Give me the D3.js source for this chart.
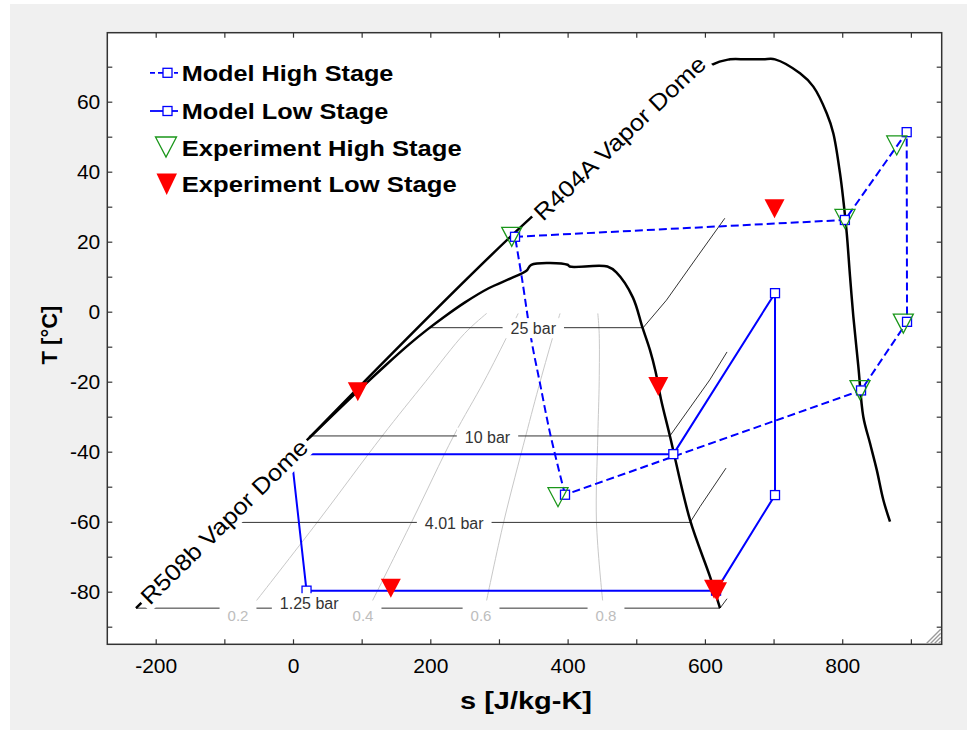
<!DOCTYPE html>
<html><head><meta charset="utf-8">
<script src="https://cdn.jsdelivr.net/npm/d3@7"></script>
<style>body{margin:0;background:#fff}svg{display:block}</style>
</head><body>
<svg id="chart" width="967" height="730"></svg>
<script>
// ---------- DATA ----------
const xTicks = [-200,-100,0,100,200,300,400,500,600,700,800,900];
const xTickLabels = [-200,0,200,400,600,800];
const yTicks = [-90,-80,-70,-60,-50,-40,-30,-20,-10,0,10,20,30,40,50,60,70];
const yTickLabels = [-80,-60,-40,-20,0,20,40,60];

// R508b vapor dome (s, T)
const r508bS = [-228.7, 24, 96, 135, 170, 195, 220, 250, 285, 318, 340, 347, 400, 403, 458, 471, 495, 509, 520, 528, 536, 549, 578.3, 607.4, 622];
const r508bT = [-84.7, -36, -22.4, -15.3, -9.2, -5.2, -1.5, 2.6, 6.7, 9.6, 11.7, 13.4, 13.4, 12.9, 12.9, 11.2, 4.1, -4.5, -11, -17, -25, -35.5, -59.5, -75.7, -84.7];
// R404A vapor dome (s, T)
const r404aS = [24, 345, 609.9, 636.6, 660, 685, 702.1, 738.5, 757.9, 777.4, 787.0, 796.8, 801.6, 806.6, 811.4, 816.2, 823.5, 830.7, 840.5, 850.3, 859.9, 869.6];
const r404aT = [-36, 26.6, 70.5, 72.1, 72.1, 72.1, 72.1, 68.1, 64.3, 56.7, 51.0, 39.5, 31.9, 22.4, 10.0, -1.4, -15.7, -30.0, -37.6, -45.2, -53.8, -60.0];

// Isobars
const p25S = [199.6, 510, 544, 588.5, 629];     const p25T = [-4.57, -4.57, 3.3, 15.6, 26.7];
const p10S = [24, 549, 607, 632.2];             const p10T = [-35.5, -35.5, -19.5, -11.5];
const p401S = [-101.5, 578.4, 592.9, 630.7];    const p401T = [-60.2, -60.2, -55.7, -44.7];
const p125S = [-228.7, 622, 632.2];             const p125T = [-84.7, -84.7, -82.0];
const pressureLabels = ["25 bar", "10 bar", "4.01 bar", "1.25 bar"];
const pressureLabelS = [350, 283.3, 234.8, 23.6];
const pressureLabelT = [-4.7, -36, -60.5, -83.3];

// Quality lines
const q02S = [-53, 36, 130, 193, 250, 282];    const q02T = [-82.5, -60, -35.5, -20, -6.2, -0.5];
const q04S = [116, 173, 234, 278, 314, 328];   const q04T = [-82.5, -60, -35.5, -20, -6.2, -0.5];
const q06S = [282, 307, 339, 360, 380, 389];   const q06T = [-82.5, -60, -35.5, -20, -6.2, -0.5];
const q08S = [451, 442, 444, 446, 446, 444];   const q08T = [-82.5, -60, -35.5, -20, -6.2, -0.5];
const qualityLabels = ["0.2", "0.4", "0.6", "0.8"];
const qualityLabelS = [-80.1, 102, 273.9, 455.9];
const qualityLabelT = [-86.7, -86.7, -86.7, -86.7];

// Model High Stage (dashed)
const highS = [396.2, 374.4, 359.8, 347.7, 333.1, 323.4, 803.9, 893.9, 894.4, 827.4, 396.2];
const highT = [-52.3, -34.7, -20.5, -8.6, 10.0, 21.4, 26.2, 51.3, -2.9, -22.5, -52.3];
const highMarkS = [396.2, 323.4, 803.9, 893.9, 894.4, 827.4];
const highMarkT = [-52.3, 21.4, 26.2, 51.3, -2.9, -22.5];
// Model Low Stage (solid)
const lowS = [-2.5, 19.7, 616.2, 702.1, 702.1, 554.0, -2.5];
const lowT = [-40.7, -79.7, -79.7, -52.4, 5.3, -40.7, -40.7];
const lowMarkS = [19.7, 616.2, 702.1, 702.1, 554.0];
const lowMarkT = [-79.7, -79.7, -52.4, 5.3, -40.7];
// Experiments
const expHighS = [318.6, 386.0, 804.0, 879.4, 889.0, 825.9];
const expHighT = [21.4, -53.0, 26.5, 47.5, -3.4, -22.4];
const expLowS = [94.4, 532.1, 701.4, 142.5, 613.3, 617.6];
const expLowT = [-22.9, -21.4, 29.4, -79.0, -79.3, -80.0];

const legendLabels = ["Model High Stage", "Model Low Stage", "Experiment High Stage", "Experiment Low Stage"];

// ---------- DRAW ----------
const FONT = "'Liberation Sans', Arial, sans-serif";
const BLUE = "#0000ff", GREEN = "#1a961a", RED = "#ff0000";
const svg = d3.select("#chart");
const L = 107.3, R = 941.7, T0 = 32.7, B = 644.3;
const x = d3.scaleLinear().domain([-270.5, 944.9]).range([L, R]);
const y = d3.scaleLinear().domain([-95.03, 79.71]).range([B, T0]);
const zip = (a, b) => a.map((v, i) => [v, b[i]]);
const line = d3.line().x(d => x(d[0])).y(d => y(d[1]));
const smooth = d3.line().x(d => x(d[0])).y(d => y(d[1])).curve(d3.curveCatmullRom.alpha(0.5));

svg.append("rect").attr("x", 10).attr("y", 4).attr("width", 957).attr("height", 726).attr("fill", "#f0f0f0");
svg.append("rect").attr("x", L).attr("y", T0).attr("width", R - L).attr("height", B - T0).attr("fill", "#fff");

// quality lines
[[q02S,q02T],[q04S,q04T],[q06S,q06T],[q08S,q08T]].forEach(([s,t]) => {
  svg.append("path").attr("d", smooth(zip(s,t))).attr("fill","none").attr("stroke","#c8c8c8").attr("stroke-width",1);
});
// isobars
[[p25S,p25T],[p10S,p10T],[p401S,p401T],[p125S,p125T]].forEach(([s,t]) => {
  svg.append("path").attr("d", line(zip(s,t))).attr("fill","none").attr("stroke","#333").attr("stroke-width",1);
});
// domes
[[r508bS,r508bT],[r404aS,r404aT]].forEach(([s,t]) => {
  svg.append("path").attr("d", smooth(zip(s,t))).attr("fill","none").attr("stroke","#000").attr("stroke-width",2.5).attr("stroke-linejoin","round");
});
// model lines
svg.append("path").attr("d", smooth(zip(highS.slice(0,6), highT.slice(0,6)))).attr("fill","none").attr("stroke",BLUE).attr("stroke-width",2).attr("stroke-dasharray","8,4");
svg.append("path").attr("d", line(zip(highS.slice(5), highT.slice(5)))).attr("fill","none").attr("stroke",BLUE).attr("stroke-width",2).attr("stroke-dasharray","8,4");
svg.append("path").attr("d", line(zip(lowS, lowT))).attr("fill","none").attr("stroke",BLUE).attr("stroke-width",2);
// squares
zip(highMarkS, highMarkT).concat(zip(lowMarkS, lowMarkT)).forEach(d => {
  svg.append("rect").attr("x", x(d[0]) - 4.5).attr("y", y(d[1]) - 4.5).attr("width", 9).attr("height", 9)
    .attr("fill","#fff").attr("stroke",BLUE).attr("stroke-width",1.3);
});

// boxed horizontal labels
function boxed(cx, cy, txt, size, color, pad, halfH) {
  const g = svg.append("g");
  const r = g.append("rect").attr("fill","#fff");
  const t = g.append("text").attr("x", cx).attr("y", cy).attr("text-anchor","middle").attr("dominant-baseline","central")
    .attr("font-family", FONT).attr("font-size", size).attr("fill", color).text(txt);
  const w = t.node().getComputedTextLength();
  r.attr("x", cx - w/2 - pad).attr("y", cy - halfH).attr("width", w + 2*pad).attr("height", 2*halfH);
}
pressureLabels.forEach((p, i) => boxed(x(pressureLabelS[i]), y(pressureLabelT[i]), p, 16, "#333", 8, 10));
qualityLabels.forEach((q, i) => boxed(x(qualityLabelS[i]), y(qualityLabelT[i]), q, 15, "#bdbdbd", 8, 9));

// rotated dome labels
function rotLabel(cx, cy, ang, txt, len) {
  const g = svg.append("g").attr("transform", `translate(${cx},${cy}) rotate(${-ang})`);
  g.append("rect").attr("x", -len/2 - 4).attr("y", -14).attr("width", len + 8).attr("height", 28).attr("fill","#fff");
  g.append("text").attr("x", 0).attr("y", 1).attr("text-anchor","middle").attr("dominant-baseline","central")
    .attr("font-family", FONT).attr("font-size", 23).attr("fill","#000")
    .attr("textLength", len).attr("lengthAdjust","spacingAndGlyphs").text(txt);
}
rotLabel(x(-101.2), y(-59.8), 44.5, "R508b Vapor Dome", 224);
rotLabel(x(474.9), y(49.8), 43.5, "R404A Vapor Dome", 227);

// triangles
const tri = (cx, cy) => `M${cx-10},${cy-9.5}L${cx+10},${cy-9.5}L${cx},${cy+9.5}Z`;
zip(expHighS, expHighT).forEach(d => {
  svg.append("path").attr("d", tri(x(d[0]), y(d[1]))).attr("fill","none").attr("stroke",GREEN).attr("stroke-width",1.3);
});
zip(expLowS, expLowT).forEach(d => {
  svg.append("path").attr("d", tri(x(d[0]), y(d[1]))).attr("fill",RED);
});

// axes
function styleAxis(g) {
  g.select(".domain").remove();
  g.selectAll("line").attr("stroke","#333").attr("stroke-width",1.2);
  g.selectAll("text").attr("font-family", FONT).attr("font-size", 21).attr("fill","#000");
}
const fmtX = d => xTickLabels.includes(d) ? String(d) : "";
const fmtY = d => yTickLabels.includes(d) ? String(d) : "";
svg.append("g").attr("transform",`translate(0,${B})`)
  .call(d3.axisBottom(x).tickValues(xTicks).tickSizeInner(-5).tickSizeOuter(0).tickPadding(14).tickFormat(fmtX)).call(styleAxis);
svg.append("g").attr("transform",`translate(0,${T0})`)
  .call(d3.axisTop(x).tickValues(xTicks).tickSizeInner(-5).tickSizeOuter(0).tickFormat("")).call(styleAxis);
svg.append("g").attr("transform",`translate(${L},0)`)
  .call(d3.axisLeft(y).tickValues(yTicks).tickSizeInner(-5).tickSizeOuter(0).tickPadding(7).tickFormat(fmtY)).call(styleAxis);
svg.append("g").attr("transform",`translate(${R},0)`)
  .call(d3.axisRight(y).tickValues(yTicks).tickSizeInner(-5).tickSizeOuter(0).tickFormat("")).call(styleAxis);

svg.append("rect").attr("x", L).attr("y", T0).attr("width", R - L).attr("height", B - T0)
  .attr("fill","none").attr("stroke","#333").attr("stroke-width",1.5);

// resize grip
[0,1,2,3].forEach(i => {
  svg.append("line").attr("x1", R - 15 + 4*i).attr("y1", B - 1).attr("x2", R - 1).attr("y2", B - 15 + 4*i)
    .attr("stroke","#9a9a9a").attr("stroke-width",1.3);
});

// axis titles
svg.append("text").attr("x", 526).attr("y", 709).attr("text-anchor","middle")
  .attr("font-family", FONT).attr("font-size", 23).attr("font-weight","bold")
  .attr("textLength", 132).attr("lengthAdjust","spacingAndGlyphs").text("s [J/kg-K]");
svg.append("text").attr("transform","translate(49,335) rotate(-90)").attr("text-anchor","middle").attr("dominant-baseline","central")
  .attr("font-family", FONT).attr("font-size", 22).attr("font-weight","bold").text("T [°C]");

// legend
const lg = svg.append("g");
const legY = [80.5, 118.8, 155.5, 192.2];
const legLen = [211.7, 206.7, 280, 275];
lg.append("line").attr("x1",150).attr("x2",178).attr("y1",72.8).attr("y2",72.8).attr("stroke",BLUE).attr("stroke-width",1.8).attr("stroke-dasharray","5,3");
lg.append("rect").attr("x",163).attr("y",68.3).attr("width",9).attr("height",9).attr("fill","#fff").attr("stroke",BLUE).attr("stroke-width",1.3);
lg.append("line").attr("x1",150).attr("x2",178).attr("y1",111).attr("y2",111).attr("stroke",BLUE).attr("stroke-width",1.8);
lg.append("rect").attr("x",163).attr("y",106.5).attr("width",9).attr("height",9).attr("fill","#fff").attr("stroke",BLUE).attr("stroke-width",1.3);
lg.append("path").attr("d", `M155.5,137L176.5,137L166,157Z`).attr("fill","none").attr("stroke",GREEN).attr("stroke-width",1.3);
lg.append("path").attr("d", `M156.5,173.5L177,173.5L166.7,195Z`).attr("fill",RED);
legendLabels.forEach((t, i) => {
  lg.append("text").attr("x", 181.7).attr("y", legY[i]).attr("font-family", FONT).attr("font-size", 22).attr("font-weight","bold")
    .attr("textLength", legLen[i]).attr("lengthAdjust","spacingAndGlyphs").text(t);
});
</script>
</body></html>
